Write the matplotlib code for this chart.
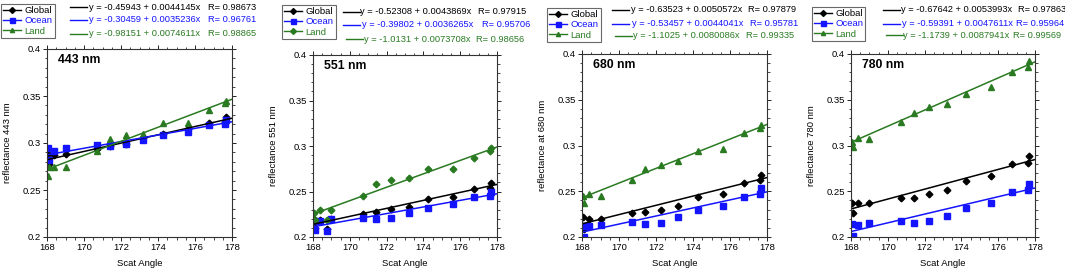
import numpy as np
import matplotlib
matplotlib.use("Agg")
import matplotlib.pyplot as plt
from matplotlib.lines import Line2D
from matplotlib.ticker import MultipleLocator

plt.rcParams['font.family'] = ['Liberation Sans', 'DejaVu Sans']

nan = np.nan

# scattering angles (shared by all panels)
scat_angle = [168.05, 168.1, 168.4, 168.75, 169.0, 170.7, 171.4, 172.25,
              173.2, 174.25, 175.6, 176.75, 177.6, 177.7]

wavelengths = ["443 nm", "551 nm", "680 nm", "780 nm"]
ylabels = ["reflectance 443 nm", "reflectance 551 nm",
           "reflectance at 680 nm", "reflectance 780 nm"]

global_vals = [
    [0.288, 0.2775, 0.287, nan, 0.288, 0.294, 0.297, 0.299, 0.305, 0.310, 0.315, 0.321, 0.322, 0.328],
    [0.2195, 0.210, 0.219, 0.209, 0.220, 0.2257, 0.227, 0.2305, 0.233, 0.2415, 0.244, 0.2525, 0.2543, 0.2595],
    [0.222, 0.209, 0.220, nan, 0.220, 0.2263, 0.227, 0.230, 0.234, 0.244, 0.247, 0.259, 0.262, 0.268],
    [0.2377, 0.2263, 0.2373, nan, 0.2377, 0.2431, 0.2431, 0.2475, 0.2519, 0.2614, 0.2665, 0.2797, 0.2811, 0.2885],
]
ocean_vals = [
    [0.295, 0.282, 0.292, nan, 0.295, 0.298, 0.297, 0.299, 0.303, 0.309, 0.312, 0.319, 0.320, 0.325],
    [0.218, 0.208, 0.218, 0.207, 0.220, 0.221, 0.220, 0.221, 0.226, 0.232, 0.236, 0.244, 0.245, 0.250],
    [0.2124, 0.200, 0.212, nan, 0.2135, 0.2165, 0.214, 0.2154, 0.2216, 0.229, 0.234, 0.244, 0.247, 0.2537],
    [0.2146, 0.2007, 0.2135, nan, 0.215, 0.2176, 0.2154, 0.2172, 0.2230, 0.2315, 0.2373, 0.249, 0.2512, 0.2574],
]
land_vals = [
    [0.265, 0.274, 0.275, nan, 0.274, 0.291, 0.304, 0.309, 0.310, 0.321, 0.3216, 0.335, 0.343, 0.345],
    [0.226, 0.219, 0.230, 0.219, 0.230, 0.245, 0.258, 0.263, 0.265, 0.275, 0.275, 0.287, 0.295, 0.298],
    [0.2446, 0.2377, 0.2468, nan, 0.2446, 0.2618, 0.2746, 0.279, 0.2826, 0.2943, 0.2962, 0.3134, 0.3188, 0.3225],
    [0.3042, 0.298, 0.3082, nan, 0.3075, 0.3258, 0.3356, 0.3426, 0.3459, 0.3561, 0.3634, 0.3806, 0.3854, 0.392],
]

# linear fits: intercept, slope, R (as printed)
global_fit = [(-0.45943, 0.0044145, "0.98673"), (-0.52308, 0.0043869, "0.97915"),
              (-0.63523, 0.0050572, "0.97879"), (-0.67642, 0.0053993, "0.97863")]
ocean_fit = [(-0.30459, 0.0035236, "0.96761"), (-0.39802, 0.0036265, "0.95706"),
             (-0.53457, 0.0044041, "0.95781"), (-0.59391, 0.0047611, "0.95964")]
land_fit = [(-0.98151, 0.0074611, "0.98865"), (-1.0131, 0.0073708, "0.98656"),
            (-1.1025, 0.0080086, "0.99335"), (-1.1739, 0.0087941, "0.99569")]
land_markers = ["^", "D", "^", "^"]

BLACK = "black"
BLUE = "#1414ff"
GREEN = "#2a7a22"

W, H = 1065, 271
fig = plt.figure(figsize=(W / 100, H / 100), dpi=100)


def fx(px):
    return px / W


def fy(py):
    return 1 - py / H


# axes boxes in pixels: left, top, right, bottom
boxes = [(47, 49, 232, 237), (313, 55, 497, 237), (582, 54, 767, 237), (851, 54, 1035, 237)]
# legend box top-left corners in pixels
legend_pos = [(1, 4), (282, 5), (547, 8), (812, 7)]
# equation rows: (y, line_x0, text_x, r_x)
eq_rows = [
    [(7, 70, 89, 208), (20, 70, 89, 208), (33.5, 70, 89, 208)],
    [(12, 343, 360, 478), (24.5, 343, 362, 482), (39, 346, 364, 476)],
    [(10, 612, 631, 748), (24, 612, 632, 750), (36, 615, 633, 746)],
    [(10, 883, 901, 1018), (24, 883, 902, 1016), (35, 886, 903, 1013)],
]

xfit = np.array([168, 178])

for i in range(4):
    l, t, r, b = boxes[i]
    ax = fig.add_axes([fx(l), fy(b), (r - l) / W, (b - t) / H])

    ax.plot(scat_angle, global_vals[i], ls="none", marker="D", ms=3.4, color=BLACK)
    ax.plot(scat_angle, ocean_vals[i], ls="none", marker="s", ms=4.4, color=BLUE)
    ax.plot(scat_angle, land_vals[i], ls="none", marker=land_markers[i],
            ms=3.8 if land_markers[i] == "^" else 3.4, color=GREEN)

    fits = [global_fit[i], ocean_fit[i], land_fit[i]]
    colors = [BLACK, BLUE, GREEN]
    for (a0, a1, _), c in zip(fits, colors):
        ax.plot(xfit, a0 + a1 * xfit, color=c, lw=1.1)

    ax.set_xlim(168, 178)
    ax.set_ylim(0.2, 0.4)
    ax.xaxis.set_major_locator(MultipleLocator(2))
    ax.xaxis.set_minor_locator(MultipleLocator(0.5))
    ax.yaxis.set_minor_locator(MultipleLocator(0.01))
    ax.set_yticks([0.2, 0.25, 0.3, 0.35, 0.4])
    ax.set_yticklabels(["0.2", "0.25", "0.3", "0.35", "0.4"])
    ax.tick_params(which="both", direction="out", top=True, right=True, labelsize=6.8, pad=1.5)
    ax.tick_params(which="major", length=3, width=0.6)
    ax.tick_params(which="minor", length=1.8, width=0.5)
    for s in ax.spines.values():
        s.set_linewidth(0.8)
        s.set_color("#333333")

    ax.set_xlabel("Scat Angle", fontsize=6.8)
    ax.xaxis.set_label_coords(0.5, -22 / (b - t))
    ax.set_ylabel(ylabels[i], fontsize=6.8)
    ax.yaxis.set_label_coords(-35 / (r - l), 0.5)

    ax.text(11 / (r - l), 1 - 11 / (b - t), wavelengths[i], transform=ax.transAxes,
            fontsize=8.8, fontweight="bold", ha="left", va="center")

    # legend
    hg = Line2D([], [], color=BLACK, marker="D", ms=3, lw=1)
    ho = Line2D([], [], color=BLUE, marker="s", ms=3.6, lw=1)
    hl = Line2D([], [], color=GREEN, marker=land_markers[i], ms=3, lw=1)
    lx, ly = legend_pos[i]
    leg = fig.legend([hg, ho, hl], ["Global", "Ocean", "Land"], loc="upper left",
                     bbox_to_anchor=(fx(lx), fy(ly)), bbox_transform=fig.transFigure,
                     fontsize=6.8, frameon=True, fancybox=False, borderpad=0.25,
                     labelspacing=0.12, handlelength=1.9, handletextpad=0.3,
                     borderaxespad=0, labelcolor="linecolor")
    leg.get_frame().set_edgecolor("#444444")
    leg.get_frame().set_linewidth(0.8)

    # equations
    for (a0, a1, rv), c, (ry, x0, tx, rx) in zip(fits, colors, eq_rows[i]):
        fig.add_artist(Line2D([fx(x0), fx(x0 + 17)], [fy(ry), fy(ry)], color=c, lw=1.0,
                              transform=fig.transFigure))
        fig.text(fx(tx), fy(ry), f"y = {a0:g} + {a1:.7g}x", color=c, fontsize=6.7,
                 ha="left", va="center")
        fig.text(fx(rx), fy(ry), f"R= {rv}", color=c, fontsize=6.7, ha="left", va="center")

fig.savefig("out.png", dpi=100)
